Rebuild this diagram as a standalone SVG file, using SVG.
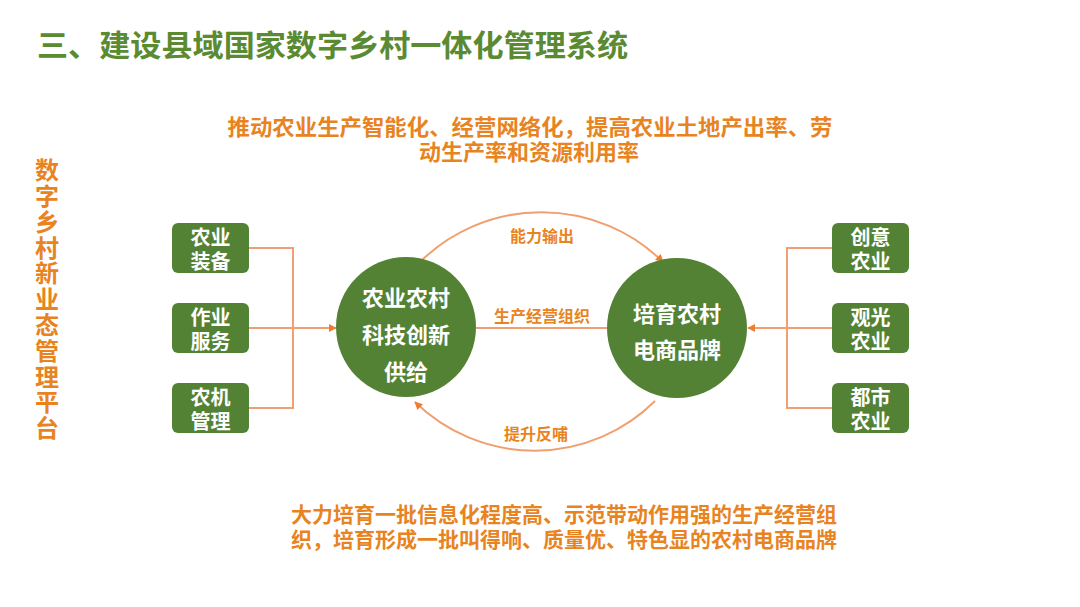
<svg xmlns="http://www.w3.org/2000/svg" width="1080" height="607" viewBox="0 0 1080 607">
<style>
.cjk{font-family:"Noto Sans CJK SC","Noto Sans",sans-serif;font-weight:bold}
.title{fill:#5a8a32;font-size:30px}
.orange{fill:#e8841f}
.box{fill:#548235}
.wt{fill:#ffffff;font-size:20px;text-anchor:middle}
.ct{fill:#ffffff;font-size:22px;text-anchor:middle}
.conn{fill:none;stroke:#f0a070;stroke-width:2}
.lbl{fill:#e8841f;font-size:16px;text-anchor:middle}
</style>
<defs>
<marker id="arr" viewBox="0 0 10 10" refX="9" refY="5" markerWidth="8" markerHeight="8" markerUnits="userSpaceOnUse" orient="auto">
<path d="M0,0 L10,5 L0,10 z" fill="#ed7d31"/>
</marker>
</defs>
<rect width="1080" height="607" fill="#ffffff"/>
<text class="cjk title" x="37" y="56" textLength="591" lengthAdjust="spacingAndGlyphs">三、建设县域国家数字乡村一体化管理系统</text>
<g id="top-text">
<text class="cjk orange" font-size="22" text-anchor="middle"><tspan x="530" y="135" textLength="605" lengthAdjust="spacingAndGlyphs">推动农业生产智能化、经营网络化，提高农业土地产出率、劳</tspan><tspan x="529" y="160">动生产率和资源利用率</tspan></text>
</g>
<g id="side-text">
<text class="cjk orange" font-size="24" x="47" y="158" writing-mode="vertical-rl" textLength="282" lengthAdjust="spacing">数字乡村新业态管理平台</text>
</g>
<g id="connectors">
<path class="conn" d="M249,248 H293 V408 H249 M249,328 H293"/>
<path class="conn" d="M293,328 H336" marker-end="url(#arr)"/>
<path class="conn" d="M832,248 H787 V408 H832 M832,328 H787"/>
<path class="conn" d="M787,328 H748" marker-end="url(#arr)"/>
<path class="conn" d="M476,328 H607"/>
<path class="conn" d="M420,262 A173,173 0 0 1 663,262" marker-end="url(#arr)"/>
<path class="conn" d="M655,401 A171,171 0 0 1 415,402" marker-end="url(#arr)"/>
<text class="cjk lbl" x="542" y="242">能力输出</text>
<text class="cjk lbl" x="542" y="322">生产经营组织</text>
<text class="cjk lbl" x="536" y="440">提升反哺</text>
</g>
<g id="n-zbzb"><rect class="box" x="172" y="223" width="77" height="50" rx="6"/><text class="cjk wt"><tspan x="210.5" y="245">农业</tspan><tspan x="210.5" y="269">装备</tspan></text></g>
<g id="n-zyfw"><rect class="box" x="172" y="303" width="77" height="50" rx="6"/><text class="cjk wt"><tspan x="210.5" y="325">作业</tspan><tspan x="210.5" y="349">服务</tspan></text></g>
<g id="n-njgl"><rect class="box" x="172" y="383" width="77" height="50" rx="6"/><text class="cjk wt"><tspan x="210.5" y="405">农机</tspan><tspan x="210.5" y="429">管理</tspan></text></g>
<g id="n-left-circle"><circle class="box" cx="406" cy="327" r="70"/><text class="cjk ct"><tspan x="406" y="306">农业农村</tspan><tspan x="406" y="343">科技创新</tspan><tspan x="406" y="380">供给</tspan></text></g>
<g id="n-right-circle"><circle class="box" cx="677" cy="328" r="70"/><text class="cjk ct"><tspan x="677" y="322">培育农村</tspan><tspan x="677" y="358">电商品牌</tspan></text></g>
<g id="n-cyny"><rect class="box" x="832" y="223" width="77" height="50" rx="6"/><text class="cjk wt"><tspan x="870.5" y="245">创意</tspan><tspan x="870.5" y="269">农业</tspan></text></g>
<g id="n-ggny"><rect class="box" x="832" y="303" width="77" height="50" rx="6"/><text class="cjk wt"><tspan x="870.5" y="325">观光</tspan><tspan x="870.5" y="349">农业</tspan></text></g>
<g id="n-dsny"><rect class="box" x="832" y="383" width="77" height="50" rx="6"/><text class="cjk wt"><tspan x="870.5" y="405">都市</tspan><tspan x="870.5" y="429">农业</tspan></text></g>
<g id="bottom-text">
<text class="cjk orange" font-size="21"><tspan x="291" y="522" textLength="546" lengthAdjust="spacingAndGlyphs">大力培育一批信息化程度高、示范带动作用强的生产经营组</tspan><tspan x="291" y="547" textLength="546" lengthAdjust="spacingAndGlyphs">织，培育形成一批叫得响、质量优、特色显的农村电商品牌</tspan></text>
</g>
</svg>
